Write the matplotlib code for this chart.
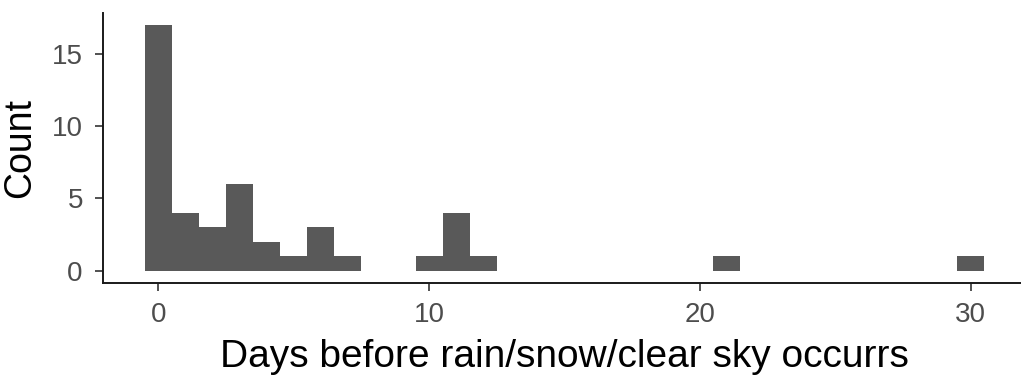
import numpy as np
import matplotlib.pyplot as plt

plt.rcParams['font.family'] = ['Liberation Sans', 'DejaVu Sans']

# counts per day (bins of width 1 centred on integer days)
days = [0, 1, 2, 3, 4, 5, 6, 7, 10, 11, 12, 21, 30]
counts = [17, 4, 3, 6, 2, 1, 3, 1, 1, 4, 1, 1, 1]
xticks = [0, 10, 20, 30]
yticks = [0, 5, 10, 15]

fig = plt.figure(figsize=(10.21, 3.75), dpi=100)
# right edge of panel runs past the figure, as in the cropped original
ax = fig.add_axes([103 / 1021, (375 - 283) / 375, (1026 - 103) / 1021, (283 - 12.6) / 375])

ax.bar(days, counts, width=1.0, color='#595959', edgecolor='none', align='center')

ax.set_xlim(-2.05, 32.05)
ax.set_ylim(-0.85, 17.85)
ax.set_xticks(xticks)
ax.set_yticks(yticks)

for s in ['top', 'right']:
    ax.spines[s].set_visible(False)
for s in ['left', 'bottom']:
    ax.spines[s].set_linewidth(1.4)
    ax.spines[s].set_color('#1a1a1a')

ax.tick_params(axis='both', length=5.5, width=1.2, color='#333333',
               labelsize=20, labelcolor='#4D4D4D')
ax.tick_params(axis='x', pad=8)
ax.tick_params(axis='y', pad=9)

ax.set_xlabel('Days before rain/snow/clear sky occurrs', fontsize=28, labelpad=8)
ax.set_ylabel('Count', fontsize=27, labelpad=10)

fig.savefig('out.png', dpi=100)
